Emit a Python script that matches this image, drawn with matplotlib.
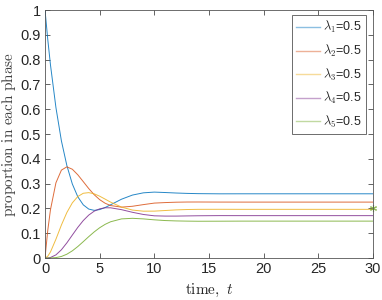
import numpy as np
import matplotlib
matplotlib.use("Agg")
import matplotlib.pyplot as plt

plt.rcParams['font.family'] = ['Liberation Sans', 'DejaVu Sans']
plt.rcParams['mathtext.fontset'] = 'cm'

# values
t = [0, 0.25, 0.5, 1, 1.5, 2, 2.5, 3, 3.5, 4, 4.5, 5, 5.5, 6, 7, 8, 9, 10,
     11, 12, 13, 14, 16, 18, 20, 25, 30]
phase1 = [1.0, 0.8825, 0.7788, 0.6065, 0.4724, 0.3727, 0.2984, 0.2468, 0.2143,
          0.1973, 0.1921, 0.1952, 0.2036, 0.2146, 0.2371, 0.2538, 0.2628, 0.2657,
          0.264, 0.262, 0.2605, 0.2595, 0.2588, 0.2589, 0.2589, 0.2589, 0.2589]
phase2 = [0, 0.1103, 0.1947, 0.3033, 0.3543, 0.3676, 0.3579, 0.3355, 0.3079,
          0.2800, 0.2552, 0.2353, 0.2208, 0.2115, 0.2051, 0.2086, 0.2153, 0.2214,
          0.2235, 0.2250, 0.2257, 0.2258, 0.2255, 0.2254, 0.2254, 0.2254, 0.2254]
phase3 = [0, 0.0069, 0.0243, 0.0758, 0.1329, 0.1834, 0.2224, 0.2479, 0.2610,
          0.2636, 0.2588, 0.2492, 0.2374, 0.2253, 0.2052, 0.1933, 0.1888, 0.1890,
          0.1915, 0.1940, 0.1955, 0.1962, 0.1964, 0.1962, 0.1962, 0.1962, 0.1962]
phase4 = [0, 0.0001, 0.0020, 0.0126, 0.0332, 0.0611, 0.0925, 0.1235, 0.1510,
          0.1730, 0.1888, 0.1983, 0.2025, 0.2024, 0.1949, 0.1843, 0.1755, 0.1701,
          0.1690, 0.1690, 0.1697, 0.1703, 0.1709, 0.1708, 0.1708, 0.1708, 0.1708]
phase5 = [0, 0.0, 0.0001, 0.0016, 0.0062, 0.0153, 0.0289, 0.0462, 0.0659,
          0.0861, 0.1052, 0.1220, 0.1357, 0.1461, 0.1577, 0.1600, 0.1577, 0.1539,
          0.1510, 0.1495, 0.1487, 0.1482, 0.1484, 0.1487, 0.1487, 0.1487, 0.1487]
labels = [r'$\lambda_1$=0.5', r'$\lambda_2$=0.5', r'$\lambda_3$=0.5',
          r'$\lambda_4$=0.5', r'$\lambda_5$=0.5']
marker_t, marker_p = 30, 0.2

colors = ['#0072BD', '#D95319', '#EDB120', '#7E2F8E', '#77AC30']
txt = '#262626'

fig = plt.figure(figsize=(3.82, 3.0), dpi=100)
ax = fig.add_axes([45/382, 42/300, 328/382, 248/300])

for ys, c, lab in zip([phase1, phase2, phase3, phase4, phase5], colors, labels):
    ax.plot(t, ys, color=c, lw=0.7, alpha=0.85, label=lab)

ax.plot([marker_t], [marker_p], ls='none', marker=(6, 2, 0), ms=5, mew=0.8,
        color=colors[4], alpha=0.8, clip_on=False)

ax.set_xlim(0, 30)
ax.set_ylim(0, 1)
ax.set_xticks(np.arange(0, 31, 5))
ax.set_yticks(np.arange(0, 1.01, 0.1))
ax.set_yticklabels(['0', '0.1', '0.2', '0.3', '0.4', '0.5', '0.6', '0.7', '0.8', '0.9', '1'])
ax.tick_params(direction='in', length=3.5, width=0.5, labelsize=10.5,
               colors=txt, top=True, right=True, pad=3)
for s in ax.spines.values():
    s.set_linewidth(0.6)
    s.set_color('#555555')

ax.set_xlabel(r'$\mathrm{time,}\ t$', fontsize=11, color=txt, labelpad=4)
ax.set_ylabel(r'$\mathrm{proportion\ in\ each\ phase}$', fontsize=11, color='#444444', labelpad=2)

leg = ax.legend(loc='upper right', bbox_to_anchor=(0.979, 0.98), borderaxespad=0,
                fancybox=False, framealpha=1, fontsize=9, handlelength=1.9,
                handletextpad=0.25, labelspacing=0.6, borderpad=0.35)
leg.get_frame().set_edgecolor('#555555')
leg.get_frame().set_linewidth(0.6)
for tx in leg.get_texts():
    tx.set_color(txt)
for h in leg.get_lines():
    h.set_alpha(0.45)
    h.set_linewidth(1.0)

plt.savefig('out.png', dpi=100)
